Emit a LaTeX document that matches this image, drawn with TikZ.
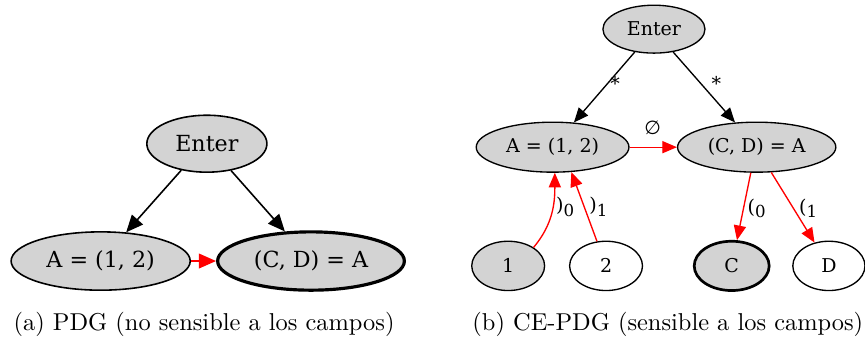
\documentclass[tikz,border=0pt]{standalone}
\usepackage{fontspec}
\newfontfamily\dejavu{DejaVu Serif}
\newfontfamily\dejavusans{DejaVu Sans}
\usetikzlibrary{arrows.meta,shapes.geometric}
\definecolor{nodegray}{HTML}{D3D3D3}
\newcommand{\sub}[1]{\raisebox{-0.45ex}{\fontsize{6.8}{7}\selectfont #1}}
\tikzset{
  lnode/.style={ellipse, draw, fill=nodegray, line width=0.65pt, inner sep=0pt, font=\dejavu\fontsize{9.1}{11}\selectfont},
  rnode/.style={ellipse, draw, line width=0.55pt, inner sep=0pt, minimum width=1.05cm, minimum height=0.71cm, font=\dejavu\fontsize{7.8}{9}\selectfont},
  larrow/.style={-{Triangle[length=7pt,width=6pt]}, line width=0.65pt},
  rarrow/.style={-{Triangle[length=6pt,width=5pt]}, line width=0.55pt},
  elabel/.style={inner sep=0pt, font=\dejavu\fontsize{7.8}{9}\selectfont}
}
\begin{document}
\begin{tikzpicture}
  \useasboundingbox (0,0) rectangle (12.46,-4.94);
  \node[lnode, minimum width=1.73cm, minimum height=0.82cm] (lenter) at (2.98,-2.07) {Enter};
  \node[lnode, minimum width=2.58cm, minimum height=0.84cm] (la) at (1.45,-3.76) {A = (1, 2)};
  \node[lnode, line width=1.3pt, minimum width=2.69cm, minimum height=0.84cm] (lcd) at (4.48,-3.76) {(C, D) = A};
  \draw[larrow] (lenter.-134) -- (la);
  \draw[larrow] (lenter.-48) -- (lcd);
  \draw[larrow, red] (la) -- (lcd);
  \node[rnode, fill=nodegray, minimum width=1.47cm, minimum height=0.69cm] (renter) at (9.42,-0.42) {Enter};
  \node[rnode, fill=nodegray, minimum width=2.20cm, minimum height=0.72cm] (ra) at (7.96,-2.12) {A = (1, 2)};
  \node[rnode, fill=nodegray, minimum width=2.28cm, minimum height=0.72cm] (rcd) at (10.90,-2.12) {(C, D) = A};
  \node[rnode, fill=nodegray] (one) at (7.32,-3.83) {1};
  \node[rnode] (two) at (8.73,-3.83) {2};
  \node[rnode, fill=nodegray, line width=1.1pt, minimum width=1.08cm] (c) at (10.54,-3.83) {C};
  \node[rnode, minimum width=1.04cm] (d) at (11.94,-3.83) {D};
  \draw[rarrow] (renter.-130) -- (ra);
  \draw[rarrow] (renter.-50) -- (rcd);
  \draw[rarrow, red] (ra) -- (rcd);
  \draw[rarrow, red] (one.36) to[out=50, in=-90] (ra.-85);
  \draw[rarrow, red] (two) -- (ra.-53);
  \draw[rarrow, red] (rcd.-103) -- (c);
  \draw[rarrow, red] (rcd.-60) -- (d);
  \node[elabel] (star1) at (8.86,-1.20) {*};
  \node[elabel] (star2) at (10.32,-1.20) {*};
  \node[elabel, font=\dejavusans\fontsize{7.8}{9}\selectfont] (empty) at (9.40,-1.84) {∅};
  \node[elabel] (close0) at (8.14,-2.98) {)\sub{0}};
  \node[elabel] (close1) at (8.62,-2.98) {)\sub{1}};
  \node[elabel] (open0) at (10.90,-3.00) {(\sub{0}};
  \node[elabel] (open1) at (11.64,-3.00) {(\sub{1}};
  \node (capa) at (2.94,-4.68) {(a) PDG (no sensible a los campos)};
  \node (capb) at (9.62,-4.68) {(b) CE-PDG (sensible a los campos)};
\end{tikzpicture}
\end{document}
